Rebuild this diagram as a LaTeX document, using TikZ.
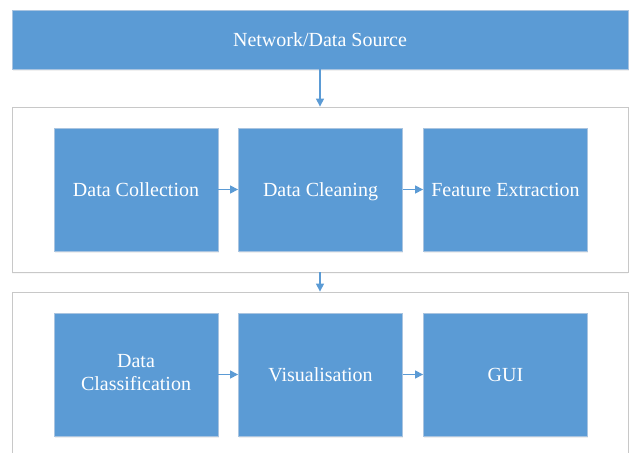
\documentclass[tikz,border=0pt]{standalone}
\usepackage{fontspec}
\setmainfont{Liberation Serif}
\usepackage{tikz}
\usetikzlibrary{positioning,arrows.meta,shadows}

\definecolor{boxblue}{HTML}{5B9BD5}
\definecolor{boxedge}{HTML}{A9C4E0}
\definecolor{groupedge}{HTML}{C8C8C8}

\tikzset{
	stagebox/.style={fill=boxblue, draw=boxedge, line width=0.8pt, text=white, align=center,
		minimum width=164pt, minimum height=123pt, inner sep=0pt,
		font=\fontsize{20}{23}\selectfont,
		execute at begin node=\rule{0pt}{18pt}, execute at end node=\rule[-5pt]{0pt}{5pt},
		drop shadow={opacity=0.12, shadow xshift=0.5pt, shadow yshift=-2pt}},
	groupbox/.style={fill=white, draw=groupedge, line width=0.8pt,
		minimum width=616pt, minimum height=165pt, inner sep=0pt,
		drop shadow={opacity=0.06, shadow xshift=0pt, shadow yshift=-2pt}},
	flow/.style={draw=boxblue, line width=1.2pt, -{Triangle[width=8pt,length=8pt]}}
}

\begin{document}
\begin{tikzpicture}[x=1pt,y=-1pt]
	\clip (0,0) rectangle (630,453);
	\useasboundingbox (0,0) rectangle (630,453);

	% source on top
	\node[stagebox, minimum width=616pt, minimum height=59pt] (source) at (320,39.5) {Network/Data Source};

	% two processing groups
	\node[groupbox] (prep) at (320,189.5) {};
	\node[groupbox] (analysis) at (320,374.5) {};

	\node[stagebox] (collect) at (136,189.5) {Data Collection};
	\node[stagebox] (clean) at (320.5,189.5) {Data Cleaning};
	\node[stagebox] (extract) at (505.5,189.5) {Feature Extraction};

	\node[stagebox] (classify) at (136,374.5) {Data\\Classification};
	\node[stagebox] (visual) at (320.5,374.5) {Visualisation};
	\node[stagebox] (gui) at (505.5,374.5) {GUI};

	\draw[flow] (source.south) -- (prep.north);
	\draw[flow] (prep.south) -- (analysis.north);

	\draw[flow] (collect.east) -- (clean.west);
	\draw[flow] (clean.east) -- (extract.west);
	\draw[flow] (classify.east) -- (visual.west);
	\draw[flow] (visual.east) -- (gui.west);
\end{tikzpicture}
\end{document}
